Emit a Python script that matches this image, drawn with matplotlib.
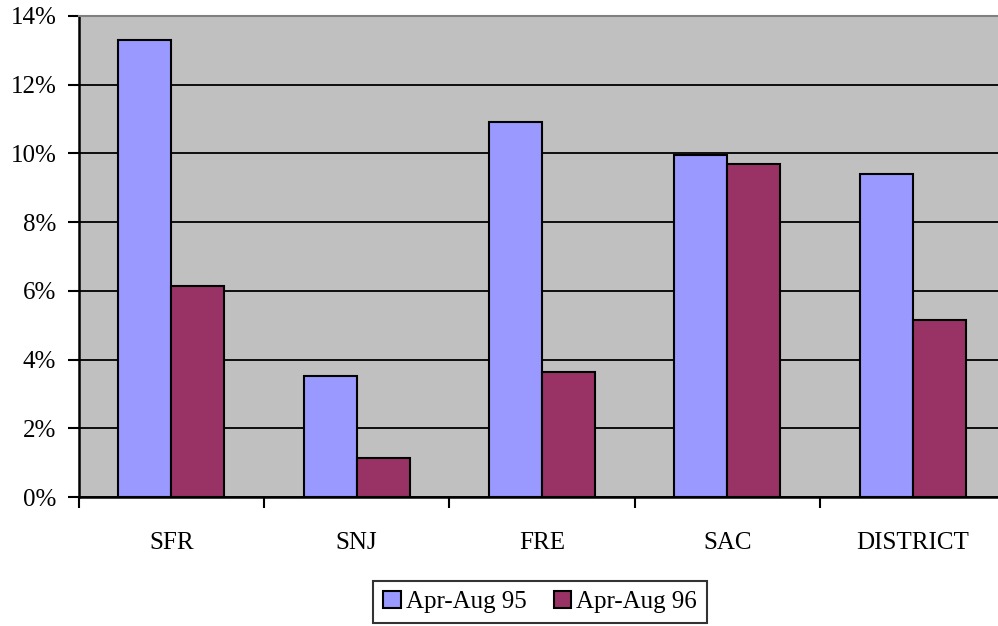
import numpy as np
import matplotlib.pyplot as plt
from matplotlib.ticker import PercentFormatter

# データ
categories = ["SFR", "SNJ", "FRE", "SAC", "DISTRICT"]
series_names = ["Apr-Aug 95", "Apr-Aug 96"]
vals_95 = [13.3, 3.52, 10.91, 9.95, 9.40]
vals_96 = [6.14, 1.14, 3.64, 9.69, 5.15]
colors = ["#9999ff", "#993366"]

plt.rcParams["font.family"] = ["Liberation Serif", "DejaVu Serif"]

fig = plt.figure(figsize=(9.98, 6.26), dpi=100)
ax = fig.add_axes([78.5 / 998, 129 / 626, 927 / 998, 481 / 626])
ax.set_facecolor("#c0c0c0")

x = np.arange(len(categories))
w = 1 / 3.5
ax.bar(x - w / 2, vals_95, w, color=colors[0], edgecolor="black", linewidth=1.5,
       label=series_names[0], zorder=3)
ax.bar(x + w / 2, vals_96, w, color=colors[1], edgecolor="black", linewidth=1.5,
       label=series_names[1], zorder=3)

ax.set_xlim(-0.5, len(categories) - 0.5)
ax.set_ylim(0, 14)
ax.set_yticks(np.arange(0, 15, 2))
ax.yaxis.set_major_formatter(PercentFormatter(decimals=0))
ax.grid(axis="y", color="black", linewidth=1.3, zorder=1)

# カテゴリ境界の目盛り
ax.set_xticks(np.arange(-0.5, len(categories), 1))
ax.set_xticklabels([])
ax.set_xticks(x, minor=True)
ax.set_xticklabels(categories, minor=True, fontsize=18)
ax.tick_params(axis="x", which="minor", length=0, pad=25)
ax.tick_params(axis="x", which="major", length=8, width=1.5, direction="out")
ax.tick_params(axis="y", length=8, width=1.5, direction="out", labelsize=18, pad=8)

for s in ["left", "bottom"]:
    ax.spines[s].set_linewidth(1.8)
ax.spines["top"].set_color("#808080")
ax.spines["top"].set_linewidth(1.5)
ax.spines["right"].set_visible(False)

leg = fig.legend(loc="center", bbox_to_anchor=(540 / 998, 1 - 602 / 626), ncol=2,
                 fontsize=18, frameon=True, fancybox=False, edgecolor="black",
                 handlelength=0.7, handleheight=0.7, handletextpad=0.2,
                 columnspacing=1.1, borderpad=0.4, borderaxespad=0)
leg.get_frame().set_linewidth(1.5)

plt.savefig("out.png", dpi=100)
